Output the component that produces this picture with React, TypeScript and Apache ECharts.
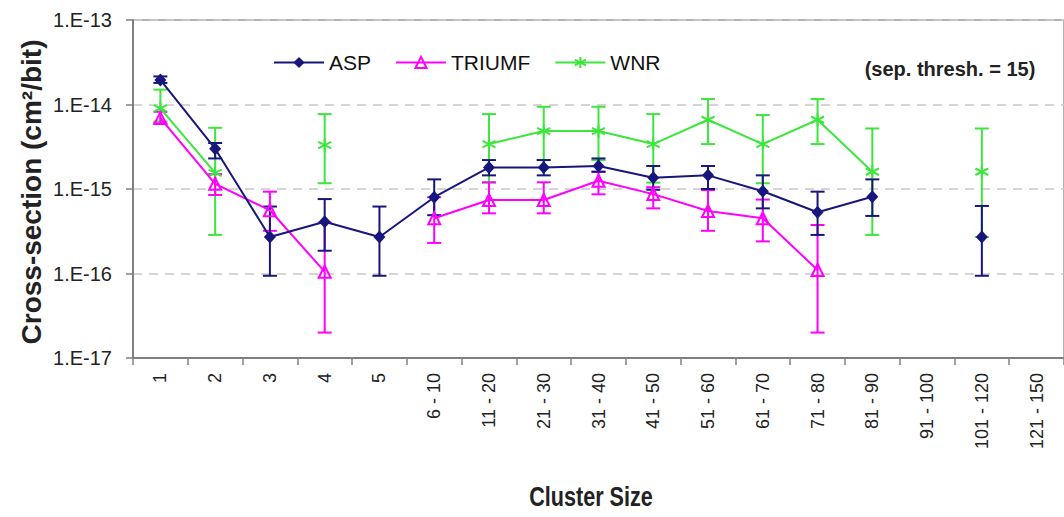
import React, { useEffect, useRef } from "react";
import * as echarts from "echarts";

const categories = ["1", "2", "3", "4", "5", "6 - 10", "11 - 20", "21 - 30", "31 - 40", "41 - 50", "51 - 60", "61 - 70", "71 - 80", "81 - 90", "91 - 100", "101 - 120", "121 - 150"];

const yTickLabels = ["1.E-17", "1.E-16", "1.E-15", "1.E-14", "1.E-13"];

// values (cm^2/bit) per category, null = no measurement
const aspValues = [1.95e-14, 3.0e-15, 2.7e-16, 4.1e-16, 2.7e-16, 8.0e-16, 1.8e-15, 1.8e-15, 1.87e-15, 1.36e-15, 1.45e-15, 9.4e-16, 5.3e-16, 8.1e-16, null, 2.7e-16, null];
const aspLow = [1.8e-14, 2.3e-15, 9.4e-17, 1.86e-16, 9.4e-17, 4.9e-16, 1.45e-15, 1.45e-15, 1.6e-15, 9.8e-16, 1.0e-15, 5.9e-16, 2.86e-16, 4.8e-16, null, 9.4e-17, null];
const aspHigh = [2.15e-14, 3.5e-15, 6.2e-16, 7.6e-16, 6.2e-16, 1.3e-15, 2.2e-15, 2.2e-15, 2.3e-15, 1.87e-15, 1.87e-15, 1.45e-15, 9.3e-16, 1.3e-15, null, 6.3e-16, null];

const triumfValues = [6.9e-15, 1.15e-15, 5.6e-16, 1.05e-16, null, 4.5e-16, 7.4e-16, 7.4e-16, 1.25e-15, 8.7e-16, 5.5e-16, 4.5e-16, 1.1e-16, null, null, null, null];
const triumfLow = [6.0e-15, 8.5e-16, 3.2e-16, 2.0e-17, null, 2.3e-16, 5.15e-16, 5.15e-16, 8.65e-16, 5.9e-16, 3.2e-16, 2.4e-16, 2.0e-17, null, null, null, null];
const triumfHigh = [8.2e-15, 1.5e-15, 9.3e-16, 4.0e-16, null, 8.0e-16, 1.2e-15, 1.2e-15, 1.6e-15, 1.05e-15, 9.7e-16, 7.5e-16, 3.75e-16, null, null, null, null];

const wnrValues = [9.0e-15, 1.55e-15, null, 3.3e-15, null, null, 3.4e-15, 4.85e-15, 4.85e-15, 3.4e-15, 6.6e-15, 3.4e-15, 6.6e-15, 1.6e-15, null, 1.6e-15, null];
const wnrLow = [6.3e-15, 2.86e-16, null, 1.17e-15, null, null, 1.19e-15, 2.2e-15, 2.2e-15, 1.19e-15, 3.4e-15, 1.17e-15, 3.4e-15, 2.86e-16, null, 2.7e-16, null];
const wnrHigh = [1.5e-14, 5.3e-15, null, 7.7e-15, null, null, 7.7e-15, 9.4e-15, 9.4e-15, 7.7e-15, 1.16e-14, 7.5e-15, 1.16e-14, 5.2e-15, null, 5.2e-15, null];

const ASP_COLOR = "#16167c";
const TRIUMF_COLOR = "#ff00ff";
const WNR_COLOR = "#3ce63c";
const FONT = "Liberation Sans, Arial, sans-serif";

const ASTERISK = "path://M0,-10L0,10M-8.66,-5L8.66,5M-8.66,5L8.66,-5";

function errorData(low: (number | null)[], high: (number | null)[]) {
  const out: number[][] = [];
  low.forEach((l, i) => {
    const h = high[i];
    if (l != null && h != null) out.push([i, l, h]);
  });
  return out;
}

function errorSeries(name: string, low: (number | null)[], high: (number | null)[], color: string, z: number) {
  return {
    type: "custom",
    name,
    z,
    silent: true,
    data: errorData(low, high),
    encode: { x: 0, y: [1, 2] },
    renderItem: (params: any, api: any) => {
      const x = api.value(0);
      const p1 = api.coord([x, api.value(1)]);
      const p2 = api.coord([x, api.value(2)]);
      const hw = 7;
      const style = { stroke: color, lineWidth: 2 };
      return {
        type: "group",
        children: [
          { type: "line", shape: { x1: p1[0], y1: p1[1], x2: p2[0], y2: p2[1] }, style },
          { type: "line", shape: { x1: p1[0] - hw, y1: p1[1], x2: p1[0] + hw, y2: p1[1] }, style },
          { type: "line", shape: { x1: p2[0] - hw, y1: p2[1], x2: p2[0] + hw, y2: p2[1] }, style },
        ],
      };
    },
  };
}

export default function App() {
  const ref = useRef<HTMLDivElement>(null);
  useEffect(() => {
    if (!ref.current) return;
    const chart = echarts.init(ref.current, null, { renderer: "svg" });
    chart.setOption({
      animation: false,
      backgroundColor: "#ffffff",
      textStyle: { fontFamily: FONT },
      grid: {
        left: 133,
        top: 20,
        width: 935,
        height: 338,
        show: true,
        borderColor: "#9a9a9a",
        borderWidth: 1.5,
        backgroundColor: "transparent",
      },
      legend: {
        left: 268,
        top: 47,
        itemWidth: 50,
        itemHeight: 14,
        itemGap: 24,
        data: ["ASP", "TRIUMF", "WNR"],
        textStyle: { fontSize: 21, color: "#111", fontFamily: FONT },
      },
      xAxis: {
        type: "category",
        data: categories,
        boundaryGap: true,
        axisLine: { lineStyle: { color: "#808080", width: 2 } },
        axisTick: { show: true, length: 7, lineStyle: { color: "#808080", width: 1.5 } },
        axisLabel: { rotate: 90, fontSize: 18, color: "#222", margin: 15, fontFamily: FONT },
        splitLine: { show: false },
      },
      yAxis: {
        type: "log",
        logBase: 10,
        min: 1e-17,
        max: 1e-13,
        axisLine: { show: true, lineStyle: { color: "#808080", width: 2 } },
        axisTick: { show: true, length: 7, lineStyle: { color: "#808080", width: 1.5 } },
        axisLabel: {
          fontSize: 20,
          color: "#222",
          margin: 21,
          fontFamily: FONT,
          formatter: (v: number) => yTickLabels[Math.round(Math.log10(v)) + 17],
        },
        splitLine: { show: true, lineStyle: { color: "#c8c8c8", width: 1.5, type: [9, 7] } },
        minorTick: { show: false },
      },
      series: [
        errorSeries("WNR err", wnrLow, wnrHigh, WNR_COLOR, 2),
        errorSeries("TRIUMF err", triumfLow, triumfHigh, TRIUMF_COLOR, 2),
        errorSeries("ASP err", aspLow, aspHigh, ASP_COLOR, 2),
        {
          name: "WNR",
          type: "line",
          z: 3,
          data: wnrValues,
          connectNulls: false,
          symbol: ASTERISK,
          symbolSize: 13,
          lineStyle: { color: WNR_COLOR, width: 2 },
          itemStyle: { color: WNR_COLOR, borderColor: WNR_COLOR, borderWidth: 2 },
        },
        {
          name: "TRIUMF",
          type: "line",
          z: 4,
          data: triumfValues,
          connectNulls: false,
          symbol: "triangle",
          symbolSize: 12,
          lineStyle: { color: TRIUMF_COLOR, width: 2 },
          itemStyle: { color: "rgba(255,255,255,0)", borderColor: TRIUMF_COLOR, borderWidth: 2 },
        },
        {
          name: "ASP",
          type: "line",
          z: 5,
          data: aspValues,
          connectNulls: false,
          symbol: "diamond",
          symbolSize: [12, 13],
          lineStyle: { color: ASP_COLOR, width: 2 },
          itemStyle: { color: ASP_COLOR },
        },
      ],
      graphic: [
        {
          type: "text",
          x: 31,
          y: 192,
          rotation: Math.PI / 2,
          style: {
            text: "Cross-section (cm²/bit)",
            fontSize: 28,
            fontWeight: "bold",
            fontFamily: FONT,
            fill: "#222",
            align: "center",
            verticalAlign: "middle",
          },
        },
        {
          type: "text",
          x: 591,
          y: 497,
          scaleX: 0.8,
          style: {
            text: "Cluster Size",
            fontSize: 27,
            fontWeight: "bold",
            fontFamily: FONT,
            fill: "#222",
            align: "center",
            verticalAlign: "middle",
          },
        },
        {
          type: "text",
          x: 950,
          y: 69,
          style: {
            text: "(sep. thresh. = 15)",
            fontSize: 20,
            fontWeight: "bold",
            fontFamily: FONT,
            fill: "#222",
            align: "center",
            verticalAlign: "middle",
          },
        },
      ],
    });
    return () => chart.dispose();
  }, []);
  return <div ref={ref} style={{ position: "fixed", left: 0, top: 0, width: 1064, height: 517 }} />;
}
